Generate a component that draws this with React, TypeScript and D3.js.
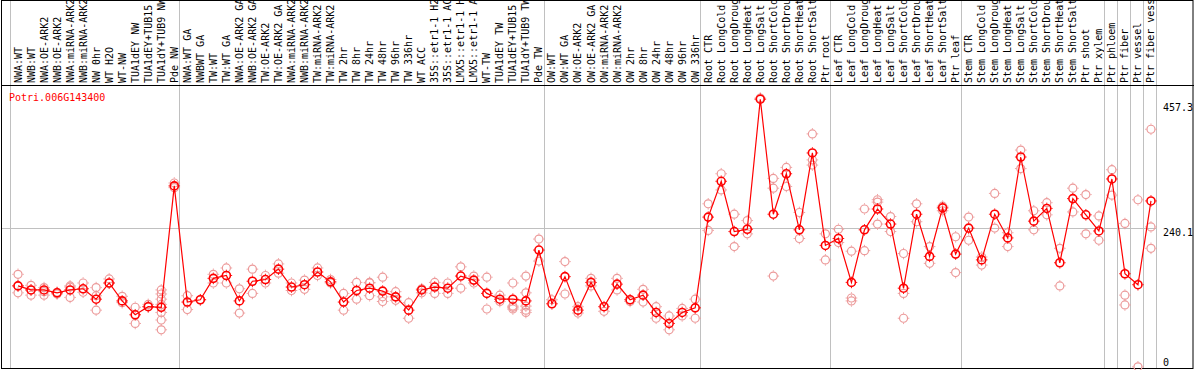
import React, { useEffect, useRef } from 'react';
import * as d3 from 'd3';

const labels = [
  'NWA:WT', 'NWB:WT', 'NWA:OE-ARK2', 'NWB:OE-ARK2', 'NWA:miRNA-ARK2', 'NWB:miRNA-ARK2', 'NW 0hr', 'WT H2O', 'WT-NW',
  'TUA1dEY NW', 'TUA1dEY+TUB15', 'TUA1dY+TUB9 NW', 'Pde NW',
  'NWA:WT GA', 'NWBWT GA', 'TW:WT', 'TW:WT GA', 'NWA:OE-ARK2 GA', 'NWB:OE-ARK2 GA', 'TW:OE-ARK2', 'TW:OE-ARK2 GA',
  'NWA:miRNA-ARK2', 'NWB:miRNA-ARK2', 'TW:miRNA-ARK2', 'TW:miRNA-ARK2 ', 'TW 2hr', 'TW 8hr', 'TW 24hr', 'TW 48hr',
  'TW 96hr', 'TW 336hr', 'WT ACC', '35S::etr1-1 H2O', '35S::etr1-1 ACC', 'LMX5::etr1-1 H2O', 'LMX5::etr1-1 ACC',
  'WT-TW', 'TUA1dEY TW', 'TUA1dEY+TUB15 ', 'TUA1dY+TUB9 TW', 'Pde TW',
  'OW:WT', 'OW:WT GA', 'OW:OE-ARK2', 'OW:OE-ARK2 GA', 'OW:miRNA-ARK2', 'OW:miRNA-ARK2 ', 'OW 2hr', 'OW 8hr',
  'OW 24hr', 'OW 48hr', 'OW 96hr', 'OW 336hr',
  'Root CTR', 'Root LongCold', 'Root LongDrought', 'Root LongHeat', 'Root LongSalt', 'Root ShortCold',
  'Root ShortDrought', 'Root ShortHeat', 'Root ShortSalt', 'Ptr root',
  'Leaf CTR', 'Leaf LongCold', 'Leaf LongDrought', 'Leaf LongHeat', 'Leaf LongSalt', 'Leaf ShortCold',
  'Leaf ShortDrought', 'Leaf ShortHeat', 'Leaf ShortSalt', 'Ptr leaf',
  'Stem CTR', 'Stem LongCold', 'Stem LongDrought', 'Stem LongHeat', 'Stem LongSalt', 'Stem ShortCold',
  'Stem ShortDrought', 'Stem ShortHeat', 'Stem ShortSalt', 'Ptr shoot', 'Ptr xylem',
  'Ptr phloem', 'Ptr fiber', 'Ptr vessel', 'Ptr fiber vessel'
];

// column index where each gray separator sits
const groupBreaks = [0, 13, 41, 53, 63, 73, 84, 85, 86, 87, 88];

const means = [
  140, 133, 133, 128, 133, 135, 117, 145, 114, 90, 104, 103, 313,
  112, 116, 153, 158, 114, 148, 151, 169, 138, 142, 164, 147, 112, 132, 136, 131, 121, 98, 133, 138, 136, 157, 150,
  127, 117, 117, 114, 202,
  109, 156, 98, 146, 104, 143, 116, 124, 94, 75, 94, 102,
  259, 321, 234, 238, 463, 264, 334, 237, 370, 210,
  222, 146, 237, 273, 247, 136, 264, 191, 275, 195,
  240, 185, 264, 223, 363, 252, 274, 180, 291, 263, 235,
  325, 161, 142, 287
];

const replicates = [
  [160, 140, 128], [141, 133, 124], [137, 130, 124], [129, 126], [140, 138, 120], [145, 129], [137, 123, 98],
  [152, 145], [122, 111], [103, 75], [108, 104], [133, 126, 117, 108, 94, 81, 64], [318, 310],
  [123, 99], [116], [160, 145], [171, 145], [135, 93], [169, 127], [158, 145], [178, 162], [145, 132], [150, 134],
  [171, 158], [151, 145], [127, 98], [146, 117], [146, 145, 123], [155, 121, 113], [130, 115], [111, 84],
  [135, 128], [146, 127], [145, 127], [173, 136], [157, 145], [155, 100], [124, 113], [145, 105, 100, 103],
  [157, 128, 105, 98, 94], [221, 183],
  [116], [182, 126], [104, 93], [153, 140], [96], [153, 133], [113], [134, 112], [104, 84], [88, 64], [101, 88],
  [117, 84],
  [282, 236], [334, 306], [264, 208], [253, 230], [465], [326, 309, 157], [345, 312], [267, 222],
  [403, 358, 349], [230, 185],
  [238, 215], [200, 119, 114], [273, 201], [289, 285, 247], [260, 234], [196, 127, 84], [282, 251], [208, 179],
  [278, 270], [225, 163],
  [259, 219], [190, 176], [300, 240], [232, 208], [375, 343], [270, 237], [284, 263], [205, 140], [309, 268],
  [298, 230], [261, 219],
  [341, 297], [248, 124, 107], [289, 0], [411, 242, 205]
];

const yTicks = [0, 240.1, 457.3];
const gridTicks = [240.1];
const geneName = 'Potri.006G143400';

const Chart = () => {
  const ref = useRef<HTMLDivElement>(null);

  useEffect(() => {
    d3.select(ref.current).selectAll('svg').remove();

    const width = 1194;
    const height = 370;
    const plotLeft = 10;
    const plotRight = 1156;
    const headerBottom = 85;
    const plotBottom = 368.5;
    const font = '"DejaVu Sans Mono", monospace';

    const svg = d3.select(ref.current)
      .append('svg')
      .attr('width', width)
      .attr('height', height)
      .style('display', 'block');

    const x = d3.scaleLinear()
      .domain([0, labels.length])
      .range([plotLeft, plotRight]);

    const y = d3.scaleLinear()
      .domain([0, 457.3])
      .range([366.8, 102.5]);

    const px = (i: number) => x(i) + 8;

    // header labels
    svg.append('g')
      .selectAll('text')
      .data(labels)
      .join('text')
      .attr('transform', (d, i) => `translate(${px(i) + 3.5},83) rotate(-90)`)
      .attr('font-family', font)
      .attr('font-size', 10)
      .attr('fill', 'black')
      .text(d => d);

    // separators
    svg.append('g')
      .selectAll('line')
      .data(groupBreaks)
      .join('line')
      .attr('x1', d => Math.round(x(d)) + 0.5)
      .attr('x2', d => Math.round(x(d)) + 0.5)
      .attr('y1', 0)
      .attr('y2', plotBottom)
      .attr('stroke', '#c0c0c0')
      .attr('stroke-width', 1);

    svg.append('g')
      .selectAll('line')
      .data(gridTicks)
      .join('line')
      .attr('x1', 1)
      .attr('x2', plotRight)
      .attr('y1', d => Math.round(y(d)) + 0.5)
      .attr('y2', d => Math.round(y(d)) + 0.5)
      .attr('stroke', '#c0c0c0')
      .attr('stroke-width', 1);

    // frame
    svg.append('rect')
      .attr('x', 1.5).attr('y', 0.5)
      .attr('width', width - 2.5).attr('height', plotBottom - 0.5)
      .attr('fill', 'none').attr('stroke', 'black').attr('stroke-width', 1);
    svg.append('line')
      .attr('x1', 1).attr('x2', width)
      .attr('y1', headerBottom + 0.5).attr('y2', headerBottom + 0.5)
      .attr('stroke', 'black');

    // y axis labels
    svg.append('g')
      .selectAll('text')
      .data(yTicks)
      .join('text')
      .attr('x', 1163)
      .attr('y', d => Math.min(y(d) + 8, 366))
      .attr('font-family', font)
      .attr('font-size', 10)
      .attr('fill', 'black')
      .text(d => String(d));

    svg.append('text')
      .attr('x', 9).attr('y', 101)
      .attr('font-family', font)
      .attr('font-size', 10)
      .attr('fill', 'red')
      .text(geneName);

    const sun = (g: any, cx: number, cy: number, color: string, sw: number) => {
      g.append('circle')
        .attr('cx', cx).attr('cy', cy).attr('r', 4)
        .attr('fill', 'none').attr('stroke', color).attr('stroke-width', sw);
      [[0, -1], [0, 1], [-1, 0], [1, 0]].forEach(([dx, dy]) => {
        g.append('line')
          .attr('x1', cx + dx * 4.5).attr('y1', cy + dy * 4.5)
          .attr('x2', cx + dx * 5.8).attr('y2', cy + dy * 5.8)
          .attr('stroke', color).attr('stroke-width', 0.9);
      });
    };

    // replicate points
    const repG = svg.append('g');
    replicates.forEach((reps, i) => {
      reps.forEach(v => sun(repG, px(i), y(v), '#ec9a9a', 1.2));
    });

    // mean line
    const line = d3.line<number>()
      .x((d, i) => px(i))
      .y(d => y(d));

    svg.append('path')
      .datum(means)
      .attr('fill', 'none')
      .attr('stroke', 'red')
      .attr('stroke-width', 1.2)
      .attr('d', line);

    const meanG = svg.append('g');
    means.forEach((v, i) => sun(meanG, px(i), y(v), 'red', 1.6));
  }, []);

  return <div ref={ref} style={{ position: 'absolute', left: 0, top: 0 }}></div>;
};

export default function App() {
  return <Chart />;
}
